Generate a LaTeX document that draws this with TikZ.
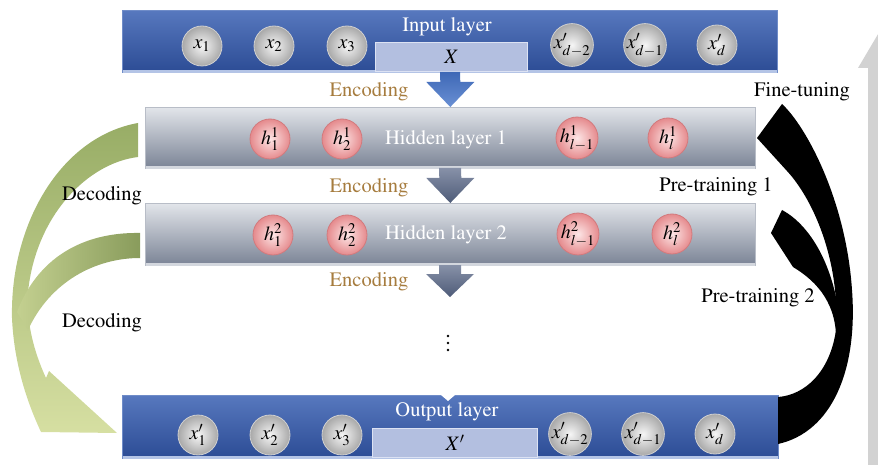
\documentclass[tikz,border=0pt]{standalone}
\usepackage[T1]{fontenc}
\usepackage{mathptmx}
\usetikzlibrary{calc}
\definecolor{enccol}{HTML}{A67C3E}
\definecolor{bluetop}{HTML}{5778BE}
\definecolor{bluebot}{HTML}{2C4C95}
\definecolor{blueline}{HTML}{6F8CC8}
\definecolor{bluestrip}{HTML}{B4C4E6}
\definecolor{greytop}{HTML}{E2E5EA}
\definecolor{greybot}{HTML}{7A8395}
\definecolor{greyline}{HTML}{B8BDC7}
\definecolor{greystrip}{HTML}{D3D7DE}
\definecolor{xboxfill}{HTML}{B3BFE0}
\definecolor{xboxline}{HTML}{DCE2F3}
\definecolor{gballin}{HTML}{F6F6F6}
\definecolor{gballout}{HTML}{A8A8A8}
\definecolor{gballline}{HTML}{D0D0D0}
\definecolor{pballin}{HTML}{FDE6E6}
\definecolor{pballout}{HTML}{E58A8D}
\definecolor{pballline}{HTML}{D27A7D}
\definecolor{eb1}{HTML}{3E68B6}
\definecolor{eb2}{HTML}{6A90D4}
\definecolor{eg1}{HTML}{8791A8}
\definecolor{eg2}{HTML}{4E5B78}
\definecolor{decdark}{HTML}{98AD66}
\definecolor{declight}{HTML}{D6DFA2}
\definecolor{bigarrow}{HTML}{D2D2D2}
\begin{document}
\begin{tikzpicture}[x=1pt,y=-1pt,
  lbl/.style={font=\fontsize{20.5}{24}\selectfont, inner sep=0pt},
  whitelbl/.style={lbl,text=white},
  enclbl/.style={lbl,text=enccol},
  blacklbl/.style={lbl,text=black},
  greyball/.style={circle,minimum size=40pt,inner sep=0pt,draw=gballline,line width=0.8pt,inner color=gballin,outer color=gballout,font=\fontsize{20}{22}\selectfont},
  pinkball/.style={greyball,draw=pballline,inner color=pballin,outer color=pballout},
  bluebar/.style={rectangle,inner sep=0pt,anchor=north west,top color=bluetop,bottom color=bluebot,draw=blueline,line width=0.6pt},
  greybar/.style={bluebar,top color=greytop,bottom color=greybot,draw=greyline},
  xbox/.style={rectangle,inner sep=0pt,anchor=south west,fill=xboxfill,draw=xboxline,line width=1.2pt,font=\fontsize{20.5}{24}\selectfont},
  encblue/.style={top color=eb1,bottom color=eb2},
  encgrey/.style={top color=eg1,bottom color=eg2},
  decfill/.style={top color=decdark,bottom color=declight},
  tunefill/.style={fill=black},
  vdot/.style={circle,fill=black,inner sep=0pt,minimum size=2.6pt},
]
\useasboundingbox (0,0) rectangle (878,465);

% big grey arrow at right edge (cropped)
\begin{scope}
\clip (0,0) rectangle (878,465);
\fill[bigarrow] (868,470) -- (868,68) -- (858,68) -- (884,24) -- (910,68) -- (900,68) -- (900,470) -- cycle;
\end{scope}

% layers
\node[bluebar,minimum width=655pt,minimum height=62pt] (inp) at (122,10) {};
\fill[bluestrip] ($(inp.south west)+(0.5,-3)$) rectangle ($(inp.south east)+(-0.5,0)$);
\node[greybar,minimum width=610pt,minimum height=61pt] (hid1) at (145,107) {};
\fill[greystrip] ($(hid1.south west)+(0.5,-3)$) rectangle ($(hid1.south east)+(-0.5,0)$);
\node[greybar,minimum width=610pt,minimum height=62pt] (hid2) at (145,203) {};
\fill[greystrip] ($(hid2.south west)+(0.5,-3)$) rectangle ($(hid2.south east)+(-0.5,0)$);
\node[bluebar,minimum width=656pt,minimum height=63pt] (out) at (122,395) {};
\fill[bluestrip] ($(out.south west)+(0.5,-3)$) rectangle ($(out.south east)+(-0.5,0)$);
\fill[white] (441,395) -- (455,395) -- (448,401) -- cycle;

\node[xbox,minimum width=152pt,minimum height=29pt] (X) at (375,72) {$X$};
\node[xbox,minimum width=165pt,minimum height=29pt] (Xp) at (372,458) {$X'$};

% layer titles
\node[whitelbl] (tin) at (447,27) {Input layer};
\node[whitelbl] (th1) at (446,140) {Hidden layer 1};
\node[whitelbl] (th2) at (446,235) {Hidden layer 2};
\node[whitelbl] (tout) at (447,412) {Output layer};

% input neurons
\node[greyball] (i1) at (202,46) {$x_1$};
\node[greyball] (i2) at (274,46) {$x_2$};
\node[greyball] (i3) at (347,46) {$x_3$};
\node[greyball] (i4) at (572,45) {$x'_{d-2}$};
\node[greyball] (i5) at (645,45) {$x'_{d-1}$};
\node[greyball] (i6) at (717,45) {$x'_{d}$};
% hidden 1
\node[pinkball] (h11) at (270,139) {$h^1_1$};
\node[pinkball] (h12) at (342,139) {$h^1_2$};
\node[pinkball] (h13) at (577,138) {$h^1_{l-1}$};
\node[pinkball] (h14) at (668,138) {$h^1_{l}$};
% hidden 2
\node[pinkball] (h21) at (273,235) {$h^2_1$};
\node[pinkball] (h22) at (347,235) {$h^2_2$};
\node[pinkball] (h23) at (578,234) {$h^2_{l-1}$};
\node[pinkball] (h24) at (672,234) {$h^2_{l}$};
% output
\node[greyball] (o1) at (198,435) {$x'_1$};
\node[greyball] (o2) at (270,435) {$x'_2$};
\node[greyball] (o3) at (342,435) {$x'_3$};
\node[greyball] (o4) at (570,434) {$x'_{d-2}$};
\node[greyball] (o5) at (643,434) {$x'_{d-1}$};
\node[greyball] (o6) at (715,434) {$x'_{d}$};

% encoding arrows
\coordinate (a1s) at (450,72);
\coordinate (a2s) at (450,168);
\coordinate (a3s) at (450,265);
\coordinate (a3e) at (450,297);
\path[encblue] ($(a1s)+(-10,0)$) -- ($(a1s)+(10,0)$) -- ($(hid1.north)+(10,-25)$) -- ($(hid1.north)+(24,-25)$) -- (hid1.north) -- ($(hid1.north)+(-24,-25)$) -- ($(hid1.north)+(-10,-25)$) -- cycle;
\path[encgrey] ($(a2s)+(-11,0)$) -- ($(a2s)+(11,0)$) -- ($(hid2.north)+(11,-25)$) -- ($(hid2.north)+(24,-25)$) -- (hid2.north) -- ($(hid2.north)+(-24,-25)$) -- ($(hid2.north)+(-11,-25)$) -- cycle;
\path[encgrey] ($(a3s)+(-11,0)$) -- ($(a3s)+(11,0)$) -- ($(a3e)+(11,-23)$) -- ($(a3e)+(24,-23)$) -- (a3e) -- ($(a3e)+(-24,-23)$) -- ($(a3e)+(-11,-23)$) -- cycle;

\node[enclbl] (e1) at (369,92) {Encoding};
\node[enclbl] (e2) at (369,188) {Encoding};
\node[enclbl] (e3) at (369,282) {Encoding};
\node[vdot] (dot1) at (448,336) {};
\node[vdot] (dot2) at (448,343) {};
\node[vdot] (dot3) at (448,350) {};

% decoding arrows (green)
\path[decfill] (138,123) .. controls (60,137) and (10,225) .. (12,318)
  .. controls (14,362) and (26,400) .. (41,432) -- (117,433) -- (49,371) -- (46,378)
  .. controls (34,352) and (26,322) .. (28,292) .. controls (36,215) and (88,163) .. (138,157) -- cycle;
\path[left color=declight!70!decdark,right color=decdark!90!black] (140,233) .. controls (90,232) and (40,252) .. (17,312)
  -- (28,330) .. controls (50,282) and (95,258) .. (140,258) -- cycle;

\node[blacklbl] (dec1) at (102,196) {Decoding};
\node[blacklbl] (dec2) at (102,323) {Decoding};

% fine-tuning / pre-training arrows (black)
\path[tunefill] (778,397) .. controls (805,395) and (830,372) .. (836,330)
  .. controls (840,258) and (812,198) .. (787,171) -- (757,138) -- (782,104)
  .. controls (806,126) and (846,200) .. (852,290)
  .. controls (858,370) and (832,432) .. (778,444) -- cycle;
\path[tunefill] (836,345) .. controls (838,305) and (818,282) .. (793,267) -- (771,233) -- (782,210)
  .. controls (810,225) and (834,265) .. (840,322) -- cycle;

\node[blacklbl] (ft) at (802,92) {Fine-tuning};
\node[blacklbl] (pt1) at (716,187) {Pre-training 1};
\node[blacklbl] (pt2) at (758,298) {Pre-training 2};
\end{tikzpicture}
\end{document}
